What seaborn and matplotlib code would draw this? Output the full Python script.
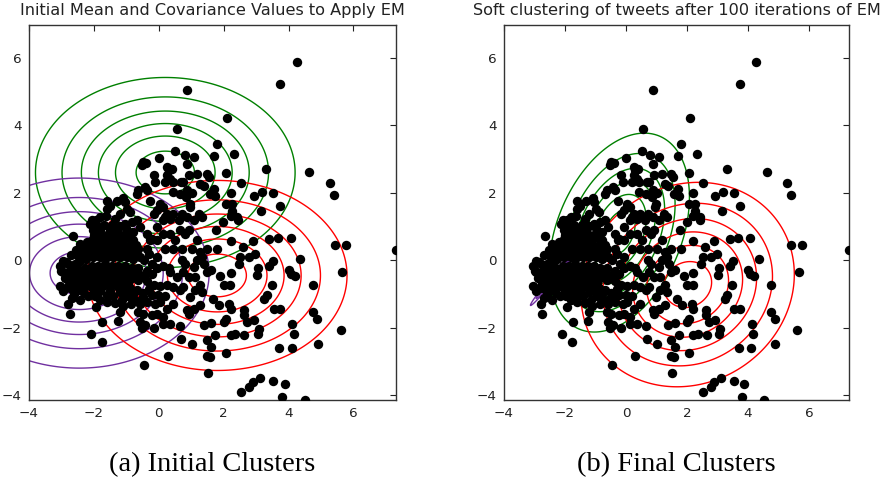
import numpy as np
import pandas as pd
import seaborn as sns
import matplotlib.pyplot as plt

# Tweet embeddings projected to 2-D (x, y), grouped by area of the plane
sparse_top = [
    (4.25, 5.87), (3.73, 5.23), (0.87, 5.05), (2.10, 4.20), (0.56, 3.88), (1.79, 3.43),
    (2.33, 3.16), (0.51, 3.23), (0.80, 3.11), (1.07, 3.06), (1.71, 3.10), (0.00, 3.04),
    (0.87, 2.86), (3.31, 2.69), (4.63, 2.62), (5.28, 2.30), (5.40, 1.94), (2.52, 2.28),
    (2.06, 2.60),
]
upper_cluster = [
    (-0.53, 2.81), (-0.48, 2.91), (-0.39, 2.89), (-0.16, 2.54), (-0.11, 2.32), (0.25, 2.76),
    (0.30, 2.66), (0.40, 2.71), (0.25, 2.52), (0.35, 2.42), (0.43, 2.32), (0.20, 2.32),
    (0.92, 2.52), (0.76, 2.32), (0.43, 2.02), (0.64, 1.97), (0.87, 2.07), (1.02, 1.99),
    (0.84, 1.87), (-0.42, 2.17), (-0.63, 2.09), (-0.68, 1.97), (-0.37, 2.07), (-0.27, 1.77),
    (0.04, 1.66), (0.14, 1.58), (-0.06, 1.48), (-0.16, 1.38), (0.25, 1.38), (0.45, 1.38),
    (0.71, 1.38), (0.95, 1.58), (0.97, 1.67), (1.23, 1.38), (1.33, 1.28), (1.07, 1.18),
    (0.87, 1.28), (0.61, 1.18), (0.35, 1.23), (0.20, 1.28), (0.14, 1.18), (-0.06, 0.99),
    (0.66, 0.89), (0.92, 0.89), (0.81, 0.79), (0.69, 2.32), (1.18, 2.57), (1.48, 2.57),
    (1.54, 2.47), (1.28, 2.27), (1.38, 2.21), (1.69, 2.12), (1.58, 1.97), (1.74, 1.89),
    (2.21, 1.99), (2.06, 1.67), (2.26, 1.67), (2.26, 1.47), (2.41, 1.28), (2.43, 1.20),
    (2.21, 1.30), (1.99, 1.13), (1.76, 0.91), (2.93, 1.89), (3.19, 2.02), (3.53, 1.99),
    (3.75, 1.61), (3.14, 1.45),
]
dense_core = [
    (-1.61, 1.77), (-1.51, 1.62), (-1.61, 1.53), (-1.09, 1.85), (-1.04, 1.72), (-0.99, 1.53),
    (-0.89, 1.43), (-1.20, 1.38), (-1.35, 1.23), (-1.63, 1.30), (-1.81, 1.28), (-1.92, 1.18),
    (-2.07, 1.18), (-2.12, 1.06), (-2.02, 0.89), (-1.81, 0.89), (-1.51, 0.89), (-1.30, 0.89),
    (-1.04, 1.08), (-0.84, 1.13), (-0.68, 1.18), (-0.58, 0.99), (-0.37, 0.79), (-0.22, 0.64),
    (-0.06, 0.59), (-0.37, 0.34), (-0.63, 0.34), (-0.78, 0.59), (-0.99, 0.69), (-1.20, 0.59),
    (-1.40, 0.59), (-1.61, 0.64), (-1.81, 0.59), (-2.02, 0.64), (-2.21, 0.54), (-2.38, 0.34),
    (-2.54, 0.29), (-2.12, 0.34), (-1.92, 0.34), (-1.71, 0.34), (-1.51, 0.39), (-1.30, 0.34),
    (-1.09, 0.34), (-0.89, 0.29), (-0.99, 0.10), (-0.78, 0.04), (-0.58, 0.10), (-1.20, 0.10),
    (-1.40, 0.10), (-1.61, 0.10), (-1.81, 0.10), (-2.02, 0.10), (-2.25, 0.04), (-2.43, -0.02),
    (-2.59, -0.12), (-2.79, -0.12), (-2.95, -0.02), (-3.05, -0.17), (-3.00, -0.32), (-2.84, -0.37),
    (-2.69, -0.32), (-2.48, -0.27), (-2.28, -0.22), (-2.07, -0.17), (-1.87, -0.17), (-1.66, -0.12),
    (-1.45, -0.17), (-1.25, -0.17), (-1.04, -0.17), (-0.84, -0.22), (-0.63, -0.22), (-0.37, -0.32),
    (-0.06, -0.22), (0.14, -0.17), (0.30, -0.22), (-0.06, 0.10), (0.20, 0.34), (0.45, 0.34),
    (-2.90, -0.52), (-2.69, -0.52), (-2.48, -0.52), (-2.28, -0.52), (-2.07, -0.47), (-1.87, -0.47),
    (-1.66, -0.42), (-1.45, -0.42), (-1.25, -0.47), (-1.04, -0.47), (-0.84, -0.52), (-0.63, -0.57),
    (-0.37, -0.62), (-0.16, -0.72), (0.04, -0.77), (0.25, -0.72), (-3.05, -0.77), (-2.95, -0.92),
    (-2.74, -0.82), (-2.54, -0.92), (-2.33, -0.82), (-2.12, -0.77), (-1.92, -0.72), (-1.71, -0.77),
    (-1.51, -0.72), (-1.30, -0.77), (-1.09, -0.82), (-0.89, -0.82), (-0.68, -0.87), (-0.48, -0.97),
    (-0.22, -1.02), (-0.01, -1.02), (0.20, -1.07), (-2.69, -1.12), (-2.43, -1.17), (-2.17, -1.07),
    (-1.97, -1.07), (-1.81, -1.17), (-1.61, -1.02), (-1.40, -1.07), (-1.35, -1.26), (-1.14, -1.19),
    (-0.94, -1.07), (-0.73, -1.19), (-0.58, -1.29), (-0.37, -1.24), (-0.11, -1.29), (0.04, -1.24),
    (0.25, -1.43), (-0.63, -1.53), (-0.48, -1.58), (-0.22, -1.63), (-0.06, -1.58), (0.14, -1.68),
    (-0.58, -1.83), (-0.53, -2.02), (-0.42, -1.93), (-0.16, -2.02), (0.14, -1.88), (0.35, -1.88),
    (-1.20, -1.53), (-0.27, 0.59), (0.14, 0.79), (0.35, 0.79), (0.51, 0.59), (0.71, 0.34),
    (-2.43, 0.49), (-2.64, 0.71), (-2.38, -0.79), (-1.92, -1.39), (-2.79, -1.29), (-2.74, -1.58),
    (-1.25, -1.81), (-1.74, -1.83), (-2.09, -2.17), (-1.76, -2.42), (-1.30, 1.77),
]
core_fill = [
    (-2.95, -0.35), (-2.75, -0.65), (-2.55, -0.70), (-2.35, -0.65), (-2.15, -0.62), (-1.95, -0.60),
    (-1.75, -0.58), (-1.55, -0.58), (-1.35, -0.60), (-1.15, -0.65), (-0.95, -0.68), (-2.85, -0.05),
    (-2.65, -0.20), (-2.45, -0.40), (-2.25, -0.38), (-2.05, -0.32), (-1.85, -0.30), (-1.65, -0.28),
    (-1.45, -0.30), (-1.25, -0.32), (-1.05, -0.32), (-0.85, -0.38), (-0.65, -0.40), (-2.70, 0.15),
    (-2.50, 0.12), (-2.30, 0.20), (-2.10, 0.22), (-1.90, 0.22), (-1.70, 0.22), (-1.50, 0.24),
    (-1.30, 0.22), (-1.10, 0.20), (-0.90, 0.15), (-0.70, 0.20), (-2.30, 0.45), (-2.10, 0.48),
    (-1.90, 0.46), (-1.70, 0.48), (-1.50, 0.50), (-1.30, 0.47), (-1.10, 0.47), (-0.90, 0.45),
    (-0.70, 0.45), (-2.00, 0.75), (-1.80, 0.74), (-1.60, 0.76), (-1.40, 0.74), (-1.20, 0.76),
    (-1.00, 0.82), (-0.80, 0.85), (-1.90, 1.02), (-1.70, 1.05), (-1.45, 1.05), (-1.20, 1.02),
    (-1.00, 0.95), (-2.80, -0.75), (-2.60, -1.00), (-2.30, -0.98), (-2.00, -0.90), (-1.80, -0.92),
    (-1.50, -0.90), (-1.20, -0.95), (-1.00, -0.97), (-0.80, -1.00), (-1.60, -1.25), (-1.10, -1.35),
    (-0.85, -1.30), (-0.50, -1.10), (-0.30, -0.85), (-0.45, -0.45), (-0.20, -0.10), (-0.45, 0.00),
    (-0.30, 0.20),
]
middle_right = [
    (1.79, 0.34), (2.21, 0.57), (2.60, 0.39), (2.90, 0.57), (2.98, 0.20), (2.77, 0.10),
    (2.46, -0.10), (2.51, 0.10), (1.48, 0.34), (2.21, -0.38), (1.90, -0.46), (2.00, -0.74),
    (2.19, -0.72), (1.61, -0.28), (1.48, -0.35), (1.28, -0.74), (1.12, -0.89), (1.33, -0.94),
    (1.66, -1.14), (1.85, -1.33), (2.15, -1.30), (2.21, -1.43), (2.06, -1.73), (2.00, -1.83),
    (1.28, -1.33), (1.07, -1.43), (0.92, -1.58), (0.87, -1.48), (0.97, -1.09), (0.76, -0.79),
    (0.66, -0.89), (0.45, -0.79), (0.74, -0.35), (0.81, -0.10), (0.71, 0.00), (1.07, -0.20),
    (1.18, 0.00), (1.33, 0.10), (1.28, 0.25), (1.40, -0.10), (1.02, 0.34), (1.18, 0.59),
    (0.92, -0.50), (1.12, -0.50), (0.56, -0.50), (0.35, -0.35), (-0.22, -0.40),
    (5.42, 0.46), (5.76, 0.46), (7.31, 0.29), (5.66, -0.35), (4.35, 0.04), (4.06, 0.66),
    (3.66, 0.66), (3.40, 0.62), (4.76, -0.72), (4.08, -0.40), (4.21, -0.46), (4.01, -0.30),
    (3.49, -0.72), (3.52, -0.02), (3.40, -0.17), (3.06, -0.22), (3.03, -0.44),
]
sparse_bottom = [
    (4.75, -1.53), (4.88, -1.73), (5.61, -2.07), (4.90, -2.49), (4.12, -1.88), (4.16, -2.19),
    (4.09, -2.59), (3.71, -2.60), (3.75, -1.43), (3.55, -1.43), (3.32, -1.04), (3.24, -1.14),
    (2.93, -1.78), (3.08, -2.03), (3.06, -2.17), (2.72, -1.83), (2.62, -1.63), (2.62, -1.46),
    (2.64, -2.22), (2.36, -2.17), (2.21, -2.22), (2.08, -2.75), (1.48, -2.37), (1.60, -2.57),
    (1.48, -2.85), (1.58, -2.87), (1.51, -3.34), (1.74, -2.22), (1.61, -1.86), (1.38, -1.93),
    (1.02, -2.47), (0.69, -2.32), (0.28, -2.85), (-0.47, -3.11), (0.66, -1.96), (0.45, -1.31),
    (2.52, -3.90), (2.79, -3.75), (2.90, -3.61), (3.13, -3.49), (3.53, -3.59), (3.88, -3.66),
    (3.80, -4.05), (4.51, -4.13),
]

# Gaussian components: initial guesses and values after 100 EM iterations
component_colors = ["green", "#7030a0", "red"]
initial_means = [(0.2, 2.6), (-2.45, -0.38), (1.8, -0.45)]
initial_covs = [[[4.24, 0.0], [0.0, 2.10]]] * 3
final_means = [(-0.22, 0.82), (-2.23, -0.345), (2.02, -0.72)]
final_covs = [
    [[1.40, 0.64], [0.64, 2.30]],
    [[0.216, 0.236], [0.236, 0.262]],
    [[3.24, 0.28], [0.28, 2.43]],
]
# contour levels as fractions of each component's peak density
level_fractions = [k / 6.6 for k in range(1, 7)]

x_range = (-4.0, 7.31)
y_range = (-4.14, 6.97)
x_ticks = [-4, -2, 0, 2, 4, 6]
y_ticks = [-4, -2, 0, 2, 4, 6]
titles = ["Initial Mean and Covariance Values to Apply EM",
          "Soft clustering of tweets after 100 iterations of EM"]
captions = ["(a) Initial Clusters", "(b) Final Clusters"]

points = pd.DataFrame(sparse_top + upper_cluster + dense_core + core_fill
                      + middle_right + sparse_bottom, columns=["x", "y"])

sns.set_style("white")
plt.rcParams["font.family"] = ["DejaVu Sans"]

W, H = 883, 482
fig = plt.figure(figsize=(W / 100, H / 100), dpi=100)
ax_a = fig.add_axes([29 / W, 1 - 400 / H, 367 / W, 375 / H])
ax_b = fig.add_axes([504 / W, 1 - 400 / H, 345 / W, 375 / H])


def gaussian_pdf(mean, cov, gx, gy):
    inv = np.linalg.inv(cov)
    dx = gx - mean[0]
    dy = gy - mean[1]
    m = inv[0, 0] * dx * dx + 2 * inv[0, 1] * dx * dy + inv[1, 1] * dy * dy
    return np.exp(-0.5 * m) / (2 * np.pi * np.sqrt(np.linalg.det(cov)))


def draw_components(ax, means, covs):
    for mean, cov, col in zip(means, covs, component_colors):
        cov_arr = np.asarray(cov, dtype=float)
        half = 3.0 * np.sqrt(np.diag(cov_arr))
        gx, gy = np.meshgrid(
            np.linspace(mean[0] - half[0], mean[0] + half[0], 700),
            np.linspace(mean[1] - half[1], mean[1] + half[1], 700),
        )
        z = gaussian_pdf(mean, cov_arr, gx, gy)
        peak = 1 / (2 * np.pi * np.sqrt(np.linalg.det(cov_arr)))
        ax.contour(gx, gy, z, levels=[f * peak for f in level_fractions],
                   colors=col, linewidths=1.0)


for ax, means, covs, title, cap in zip(
        [ax_a, ax_b], [initial_means, final_means], [initial_covs, final_covs], titles, captions):
    draw_components(ax, means, covs)
    sns.scatterplot(data=points, x="x", y="y", ax=ax, color="black", s=46,
                    linewidth=0, zorder=3, legend=False)
    ax.set_xlim(*x_range)
    ax.set_ylim(*y_range)
    ax.set_xticks(x_ticks)
    ax.set_yticks(y_ticks)
    ax.set_xlabel("")
    ax.set_ylabel("")
    ax.tick_params(direction="in", length=4, width=0.8, top=True, right=True,
                   labelsize=9.7, colors="#222222", pad=5)
    for s in ax.spines.values():
        s.set_color("#333333")
        s.set_linewidth(1.0)
    ax.set_title(title, fontsize=11.6, color="#222222", pad=7)
    bb = ax.get_position()
    fig.text(bb.x0 + bb.width / 2, 1 - 465 / H, cap, ha="center", va="center",
             family="Liberation Serif", fontsize=20.5, color="black")

fig.savefig("out.png", dpi=100)
